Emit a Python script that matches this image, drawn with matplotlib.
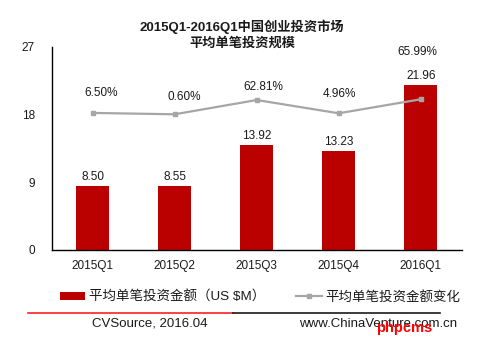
import matplotlib
matplotlib.use('Agg')
import matplotlib.pyplot as plt
from matplotlib.lines import Line2D
from matplotlib.patches import Patch

plt.rcParams['font.family'] = ['Liberation Sans', 'Noto Sans CJK SC', 'DejaVu Sans']

quarters = ['2015Q1', '2015Q2', '2015Q3', '2015Q4', '2016Q1']
avg_deal = [8.50, 8.55, 13.92, 13.23, 21.96]      # US $M
growth = [6.50, 0.60, 62.81, 4.96, 65.99]         # %

bar_color = '#BB0000'
line_color = '#A6A6A6'

fig = plt.figure(figsize=(4.84, 3.45), dpi=100)
ax = fig.add_axes([0.1068, 0.2754, 0.8472, 0.5884])
x = list(range(len(quarters)))

ax.bar(x, avg_deal, width=0.4, color=bar_color, zorder=2)
for xi, v in zip(x, avg_deal):
    ax.annotate(f'{v:.2f}', (xi, v), xytext=(0, 9), textcoords='offset pixels',
                ha='center', va='center', fontsize=8.5, color='#1a1a1a')

ax.set_xlim(-0.5, 4.5)
ax.set_ylim(0, 27)
ax.set_yticks([0, 9, 18, 27])
ax.set_xticks(x)
ax.set_xticklabels(quarters)
ax.tick_params(axis='both', length=0, labelsize=8.5, colors='#1a1a1a')
ax.tick_params(axis='y', pad=12)
ax.tick_params(axis='x', pad=7)
for side in ['top', 'right']:
    ax.spines[side].set_visible(False)
for side in ['left', 'bottom']:
    ax.spines[side].set_color('black')
    ax.spines[side].set_linewidth(1.0)

# growth line on a hidden secondary axis
ax2 = ax.twinx()
ax2.set_ylim(-591, 294)
ax2.axis('off')
ax2.plot(x, growth, color=line_color, lw=1.6, marker='s', markersize=3.5,
         zorder=3)
label_dx = [8, 10, 7, 1, -3]
label_dy = [20, 17, 13, 19, 47]
for xi, g, dx, dy in zip(x, growth, label_dx, label_dy):
    ax2.annotate(f'{g:.2f}%', (xi, g), xytext=(dx, dy), textcoords='offset pixels',
                 ha='center', va='center', fontsize=8.5, color='#1a1a1a')

fig.text(0.5, 1 - 27 / 345, '2015Q1-2016Q1中国创业投资市场', ha='center', va='center',
         fontsize=9.5, fontweight='bold', color='#1a1a1a')
fig.text(0.5, 1 - 43 / 345, '平均单笔投资规模', ha='center', va='center',
         fontsize=9.5, fontweight='bold', color='#1a1a1a')

handles = [
    Patch(facecolor=bar_color, edgecolor='none', label='平均单笔投资金额（US $M）'),
    Line2D([], [], color=line_color, lw=1.6, marker='s', markersize=3.5,
           label='平均单笔投资金额变化'),
]
fig.legend(handles=handles, loc='center', bbox_to_anchor=(0.537, 1 - 297 / 345),
           ncol=2, frameon=False, fontsize=9.7, handlelength=1.9, handleheight=0.55,
           handletextpad=0.25, columnspacing=2.3, labelcolor='#1a1a1a')

# footer rules and source notes
y_rule = 1 - 313 / 345
fig.add_artist(Line2D([28 / 484, 233 / 484], [y_rule, y_rule], color='#FF2020', lw=1.2))
fig.add_artist(Line2D([233 / 484, 440 / 484], [y_rule, y_rule], color='#1a1a1a', lw=1.2))
fig.text(92 / 484, 1 - 324 / 345, 'CVSource, 2016.04', ha='left', va='center',
         fontsize=9.5, color='#1a1a1a')
fig.text(457 / 484, 1 - 324 / 345, 'www.ChinaVenture.com.cn', ha='right', va='center',
         fontsize=9.5, color='#1a1a1a')
fig.text(404 / 484, 1 - 328 / 345, 'phpcms', ha='center', va='center',
         fontsize=10.5, fontweight='bold', color='#FF0000')

fig.savefig('out.png', dpi=100)
